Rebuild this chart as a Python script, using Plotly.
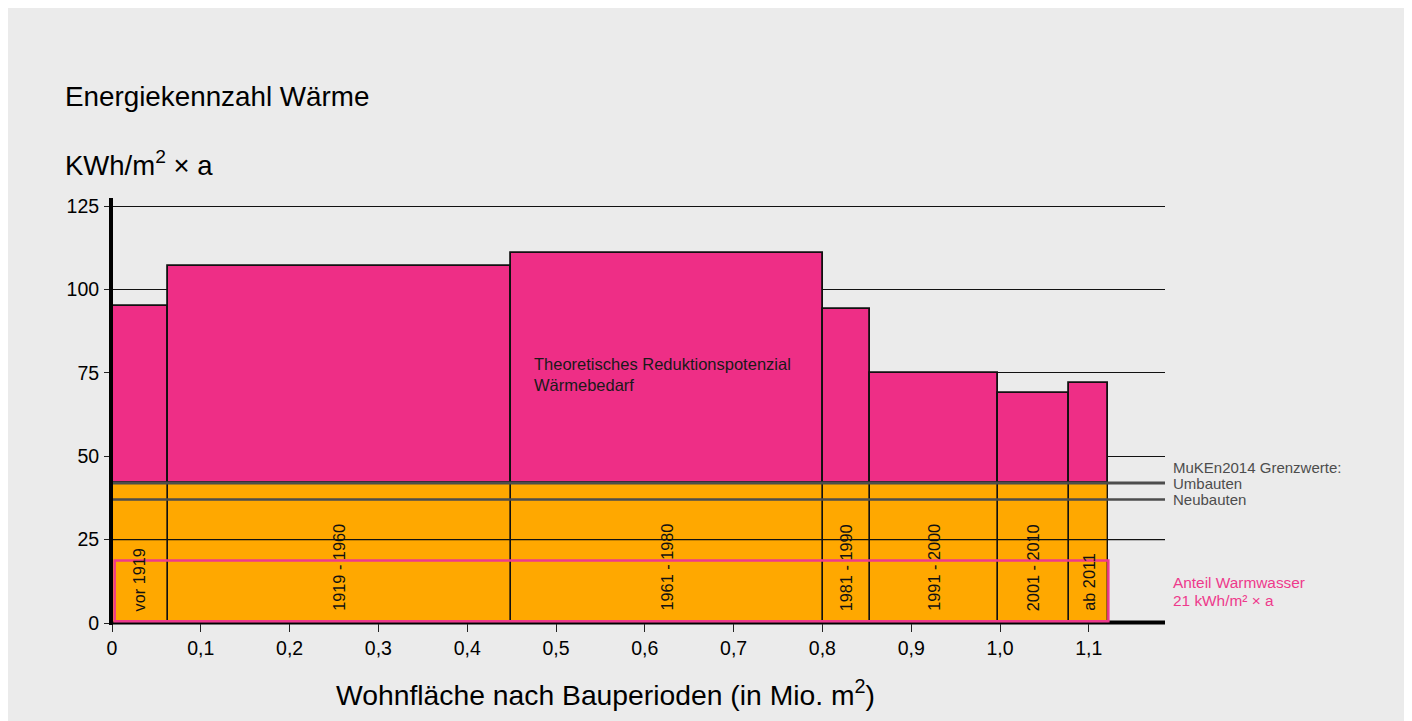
import numpy as np
import plotly.graph_objects as go

# ---------------- data ----------------
perioden = ["vor 1919", "1919 - 1960", "1961 - 1980", "1981 - 1990",
            "1991 - 2000", "2001 - 2010", "ab 2011"]
wohnflaeche = [0.063, 0.386, 0.352, 0.053, 0.144, 0.080, 0.044]   # Mio. m2 (bar widths)
energiekennzahl = [95, 107, 111, 94, 75, 69, 72]                  # kWh/m2 x a
grenzwert_umbauten = 42
grenzwert_neubauten = 37
warmwasser_drawn = 18.7
x_tickvals = [0, 0.1, 0.2, 0.3, 0.4, 0.5, 0.6, 0.7, 0.8, 0.9, 1.0, 1.1]
x_ticktext = ["0", "0,1", "0,2", "0,3", "0,4", "0,5", "0,6", "0,7", "0,8", "0,9", "1,0", "1,1"]
y_tickvals = [0, 25, 50, 75, 100, 125]

# ---------------- layout geometry ----------------
W, H = 1412, 721
OFF = 8  # page body margin (screen = figure + OFF)
ML, MR, MT, MB = 104, 255, 190, 106
PW, PH = W - ML - MR, H - MT - MB
X_PER_UNIT = 888.0
Y_PER_UNIT = 3.336

def px_x(p):
    return (p - OFF - ML) / PW

def px_y(p):
    return (H - MB - (p - OFF)) / PH

MAGENTA = "#ee2e86"
ORANGE = "#ffa800"
PINK = "#ee3a8c"
GREY = "#4d4d4d"
BG = "#ebebeb"
FONT = "Liberation Sans"

widths = np.array(wohnflaeche)
lefts = np.concatenate([[0], np.cumsum(widths)[:-1]])
centers = lefts + widths / 2
total = float(np.sum(widths))
heights = np.array(energiekennzahl, dtype=float)

fig = go.Figure()
fig.add_trace(go.Bar(
    x=centers, width=widths, base=[grenzwert_umbauten] * len(widths),
    y=heights - grenzwert_umbauten,
    marker=dict(color=MAGENTA, line=dict(color="#111111", width=1.8)),
    hoverinfo="skip", showlegend=False))
fig.add_trace(go.Bar(
    x=centers, width=widths, base=[0] * len(widths),
    y=[grenzwert_umbauten] * len(widths),
    marker=dict(color=ORANGE, line=dict(color="#111111", width=1.4)),
    hoverinfo="skip", showlegend=False))

shapes = []
# gridline 25 above orange
shapes.append(dict(type="line", xref="paper", yref="y", x0=0, x1=1, y0=25, y1=25,
                   line=dict(color="#111111", width=1.2), layer="above"))
# Grenzwerte lines
shapes.append(dict(type="line", xref="paper", yref="y", x0=0, x1=1,
                   y0=grenzwert_umbauten, y1=grenzwert_umbauten,
                   line=dict(color=GREY, width=3), layer="above"))
shapes.append(dict(type="line", xref="paper", yref="y", x0=0, x1=1,
                   y0=grenzwert_neubauten, y1=grenzwert_neubauten,
                   line=dict(color=GREY, width=2.5), layer="above"))
# Warmwasser rectangle
shapes.append(dict(type="rect", xref="x", yref="y", x0=0.003, x1=total,
                   y0=0.5, y1=warmwasser_drawn,
                   line=dict(color=PINK, width=2.5), fillcolor="rgba(0,0,0,0)", layer="above"))
# thick axis lines
shapes.append(dict(type="line", xref="paper", yref="paper", x0=px_x(111), x1=px_x(111),
                   y0=px_y(625), y1=1, line=dict(color="black", width=4), layer="above"))
shapes.append(dict(type="line", xref="paper", yref="paper", x0=px_x(109), x1=1,
                   y0=px_y(622.5), y1=px_y(622.5), line=dict(color="black", width=4), layer="below"))

annotations = []
# period labels (rotated)
for c, lab in zip(centers, perioden):
    annotations.append(dict(x=c, y=3.0, xref="x", yref="y", text=lab, textangle=-90,
                            xanchor="center", yanchor="bottom", showarrow=False,
                            font=dict(family=FONT, size=16.3, color="#111111")))
annotations.append(dict(x=0.4734, y=74.6, xref="x", yref="y",
                        text="Theoretisches Reduktionspotenzial<br>Wärmebedarf",
                        align="left", xanchor="left", yanchor="middle", showarrow=False,
                        font=dict(family=FONT, size=16.5, color="#1a1a1a")))
# titles
annotations.append(dict(x=px_x(63), y=px_y(96), xref="paper", yref="paper",
                        text="Energiekennzahl Wärme", xanchor="left", yanchor="middle",
                        showarrow=False, font=dict(family=FONT, size=27.8, color="black")))
annotations.append(dict(x=px_x(63), y=px_y(163), xref="paper", yref="paper",
                        text="KWh/m<sup>2</sup> × a", xanchor="left", yanchor="middle",
                        showarrow=False, font=dict(family=FONT, size=27.5, color="black")))
annotations.append(dict(x=px_x(605), y=px_y(693), xref="paper", yref="paper",
                        text="Wohnfläche nach Bauperioden (in Mio. m<sup>2</sup>)",
                        xanchor="center", yanchor="middle",
                        showarrow=False, font=dict(family=FONT, size=28.3, color="black")))
# right side labels
for txt, yy in [("MuKEn2014 Grenzwerte:", 467), ("Umbauten", 483), ("Neubauten", 499)]:
    annotations.append(dict(x=px_x(1171), y=px_y(yy), xref="paper", yref="paper",
                            text=txt, xanchor="left", yanchor="middle", showarrow=False,
                            font=dict(family=FONT, size=15, color=GREY)))
for txt, yy in [("Anteil Warmwasser", 582), ("21 kWh/m² × a", 600)]:
    annotations.append(dict(x=px_x(1171), y=px_y(yy), xref="paper", yref="paper",
                            text=txt, xanchor="left", yanchor="middle", showarrow=False,
                            font=dict(family=FONT, size=15.4, color=PINK)))

fig.update_layout(
    width=W, height=H,
    margin=dict(l=ML, r=MR, t=MT, b=MB, pad=0),
    paper_bgcolor=BG, plot_bgcolor=BG,
    barmode="overlay", bargap=0,
    showlegend=False,
    shapes=shapes, annotations=annotations,
    xaxis=dict(range=[0, PW / X_PER_UNIT], tickvals=x_tickvals, ticktext=x_ticktext,
               ticks="outside", ticklen=8, tickwidth=1.2, tickcolor="#222222",
               showgrid=False, zeroline=False, showline=False,
               tickfont=dict(family=FONT, size=19.5, color="black"), fixedrange=True),
    yaxis=dict(range=[0, PH / Y_PER_UNIT], tickvals=y_tickvals,
               ticks="outside", ticklen=7, tickwidth=1.2, tickcolor="#222222",
               showgrid=True, gridcolor="#111111", gridwidth=1.2, zeroline=False, showline=False,
               ticklabelstandoff=1,
               tickfont=dict(family=FONT, size=19.5, color="black"), fixedrange=True),
    font=dict(family=FONT),
)

fig.write_html("out.html")
